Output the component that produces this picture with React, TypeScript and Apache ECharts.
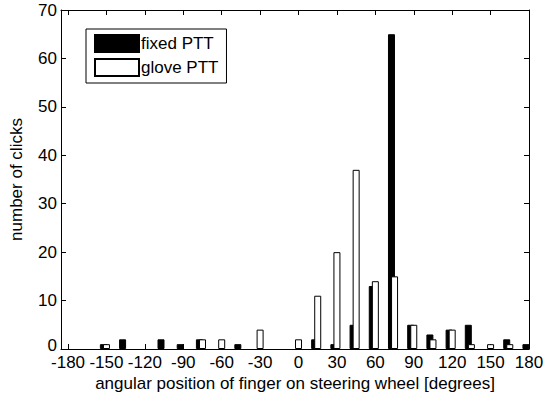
import React, { useEffect, useRef } from "react";
import * as echarts from "echarts";

const binCenters = [
  -180, -165, -150, -135, -120, -105, -90, -75, -60, -45, -30, -15, 0,
  15, 30, 45, 60, 75, 90, 105, 120, 135, 150, 165, 180,
];
const fixedPTT = [0, 0, 1, 2, 0, 2, 1, 2, 0, 1, 0, 0, 0, 2, 1, 5, 13, 65, 5, 3, 4, 5, 0, 2, 1];
const glovePTT = [0, 0, 1, 0, 0, 0, 0, 2, 2, 0, 4, 0, 2, 11, 20, 37, 14, 15, 5, 2, 4, 1, 1, 1, 0];
const xTickValues = [-180, -150, -120, -90, -60, -30, 0, 30, 60, 90, 120, 150, 180];
const seriesNames = ["fixed PTT", "glove PTT"];
const xTitle = "angular position of finger on steering wheel [degrees]";
const yTitle = "number of clicks";

const FIXED_SHIFT = -2.4;
const FONT = "'Liberation Sans', Arial, Helvetica, sans-serif";
const FS = 17;

export default function App() {
  const ref = useRef<HTMLDivElement>(null);
  useEffect(() => {
    const chart = echarts.init(ref.current!, null, { renderer: "svg" });
    const fixedData = binCenters
      .map((b, i) => [b + FIXED_SHIFT, fixedPTT[i]])
      .filter((d) => d[1] > 0);
    const gloveData = binCenters
      .map((b, i) => [b, glovePTT[i]])
      .filter((d) => d[1] > 0);
    const axisLine = { show: true, onZero: false, lineStyle: { color: "#000", width: 1 } };
    const xBase = {
      type: "value",
      min: -185.5,
      max: 180,
      splitLine: { show: false },
      axisLine,
      axisTick: { show: true, inside: true, length: 5, customValues: xTickValues, lineStyle: { color: "#000" } },
    };
    const yBase = {
      type: "value",
      min: 0,
      max: 70,
      interval: 10,
      splitLine: { show: false },
      axisLine,
      axisTick: { show: true, inside: true, length: 5, lineStyle: { color: "#000" } },
    };
    chart.setOption({
      animation: false,
      backgroundColor: "#fff",
      textStyle: { fontFamily: FONT },
      grid: { left: 61, top: 10, width: 468, height: 339, containLabel: false, outerBoundsMode: "none" },
      legend: {
        data: seriesNames,
        orient: "vertical",
        left: 86,
        top: 29,
        padding: [5, 8, 6, 8],
        itemWidth: 44,
        itemHeight: 17,
        itemGap: 5,
        icon: "rect",
        borderColor: "#000",
        borderWidth: 1,
        backgroundColor: "#fff",
        textStyle: { color: "#000", fontSize: FS, fontFamily: FONT, padding: [0, 0, 0, -3] },
      },
      xAxis: [
        {
          ...xBase,
          position: "bottom",
          axisLabel: {
            customValues: xTickValues,
            color: "#000",
            fontSize: FS,
            fontFamily: FONT,
            lineHeight: 14,
            margin: 6,
          },
          name: xTitle,
          nameLocation: "middle",
          nameGap: 24,
          nameTextStyle: { color: "#000", fontSize: FS, fontFamily: FONT },
        },
        { ...xBase, position: "top", axisLabel: { show: false } },
      ],
      yAxis: [
        {
          ...yBase,
          position: "left",
          axisLabel: {
            color: "#000",
            fontSize: FS,
            fontFamily: FONT,
            margin: 4,
            formatter: (v: number) => (v === 0 ? "{z|0}" : "{n|" + v + "}"),
            rich: {
              z: { fontSize: FS, fontFamily: FONT, color: "#000", lineHeight: 10, padding: [0, 0, 8, 0] },
              n: { fontSize: FS, fontFamily: FONT, color: "#000" },
            },
          },
          name: yTitle,
          nameLocation: "middle",
          nameGap: 36,
          nameTextStyle: { color: "#000", fontSize: FS, fontFamily: FONT },
        },
        { ...yBase, position: "right", axisLabel: { show: false } },
      ],
      series: [
        {
          type: "bar",
          name: seriesNames[0],
          data: fixedData,
          barWidth: 7,
          barGap: "-100%",
          itemStyle: { color: "#000", borderColor: "#000", borderWidth: 1 },
        },
        {
          type: "bar",
          name: seriesNames[1],
          data: gloveData,
          barWidth: 7,
          barGap: "-100%",
          itemStyle: { color: "#fff", borderColor: "#000", borderWidth: 1 },
        },
      ],
    });
    return () => chart.dispose();
  }, []);
  return <div ref={ref} style={{ position: "fixed", left: 0, top: 0, width: 549, height: 397 }} />;
}
